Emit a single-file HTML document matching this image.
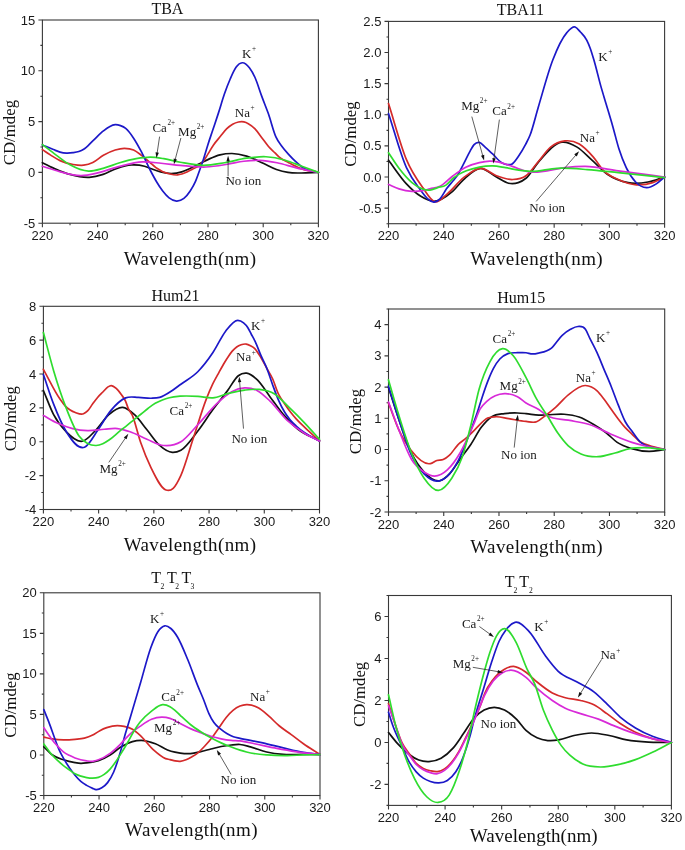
<!DOCTYPE html>
<html><head><meta charset="utf-8"><style>
html,body{margin:0;padding:0;background:#fff;}
svg{display:block;will-change:transform;}
.tk{font-family:"Liberation Sans", sans-serif;font-size:13px;fill:#1a1a1a;}
.ti{font-family:"Liberation Serif", serif;font-size:16px;fill:#111;}
.sb{font-size:7.6px;}
.yl{font-family:"Liberation Serif", serif;font-size:16.8px;fill:#111;}
.xl{font-family:"Liberation Serif", serif;font-size:19px;fill:#111;letter-spacing:0.4px;}
.lb{font-family:"Liberation Serif", serif;font-size:13px;fill:#1a1a1a;}
.sp{font-size:7.2px;}
</style></head><body>
<svg width="685" height="850" viewBox="0 0 685 850">
<rect width="685" height="850" fill="#fff"/>
<rect x="42.40" y="20.00" width="276.00" height="203.20" fill="none" stroke="#383838" stroke-width="1.1"/>
<text x="42.40" y="239.80" text-anchor="middle" class="tk">220</text>
<text x="97.60" y="239.80" text-anchor="middle" class="tk">240</text>
<text x="152.80" y="239.80" text-anchor="middle" class="tk">260</text>
<text x="208.00" y="239.80" text-anchor="middle" class="tk">280</text>
<text x="263.20" y="239.80" text-anchor="middle" class="tk">300</text>
<text x="318.40" y="239.80" text-anchor="middle" class="tk">320</text>
<text x="35.30" y="227.70" text-anchor="end" class="tk">-5</text>
<text x="35.30" y="176.90" text-anchor="end" class="tk">0</text>
<text x="35.30" y="126.10" text-anchor="end" class="tk">5</text>
<text x="35.30" y="75.30" text-anchor="end" class="tk">10</text>
<text x="35.30" y="24.50" text-anchor="end" class="tk">15</text>
<path d="M42.40,223.20v4.0 M70.00,223.20v2.0 M97.60,223.20v4.0 M125.20,223.20v2.0 M152.80,223.20v4.0 M180.40,223.20v2.0 M208.00,223.20v4.0 M235.60,223.20v2.0 M263.20,223.20v4.0 M290.80,223.20v2.0 M318.40,223.20v4.0 M42.40,223.20h-4.0 M42.40,197.80h-2.0 M42.40,172.40h-4.0 M42.40,147.00h-2.0 M42.40,121.60h-4.0 M42.40,96.20h-2.0 M42.40,70.80h-4.0 M42.40,45.40h-2.0 M42.40,20.00h-4.0" stroke="#383838" stroke-width="1.1" fill="none"/>
<path d="M42.40,162.65 C47.00,164.88 51.60,167.39 56.20,169.35 C60.80,171.32 65.40,173.16 70.00,174.43 C76.44,176.21 82.88,177.66 89.32,177.28 C93.92,177.01 98.52,175.92 103.12,174.43 C107.72,172.94 112.32,169.89 116.92,168.34 C121.80,166.69 126.67,165.25 131.55,164.98 C135.87,164.75 140.20,165.11 144.52,166.30 C146.35,166.81 148.18,167.59 150.01,168.23 C153.55,169.47 157.08,171.01 160.61,171.89 C164.14,172.77 167.68,173.52 171.21,173.52 C174.73,173.52 178.26,172.96 181.78,171.89 C184.52,171.06 187.26,169.71 190.00,168.44 C191.47,167.76 192.93,167.02 194.39,166.30 C196.44,165.30 198.50,164.27 200.55,163.26 C203.49,161.80 206.44,160.18 209.38,158.89 C212.92,157.33 216.46,155.82 220.01,154.92 C224.01,153.91 228.01,153.44 232.01,153.50 C236.89,153.58 241.76,154.69 246.64,156.14 C252.16,157.79 257.68,160.77 263.20,163.26 C267.62,165.25 272.03,167.89 276.45,169.45 C280.31,170.82 284.18,171.81 288.04,172.40 C292.00,173.01 295.95,172.94 299.91,173.01 C306.07,173.12 312.24,172.60 318.40,172.40" stroke="#111111" stroke-width="1.70" fill="none" stroke-linejoin="round" stroke-linecap="round"/>
<path d="M42.40,149.64 C45.16,151.47 47.92,153.40 50.68,155.13 C53.79,157.08 56.90,159.16 60.01,160.61 C64.37,162.65 68.73,163.74 73.09,164.48 C76.62,165.07 80.16,165.63 83.69,165.19 C86.73,164.81 89.76,163.97 92.80,162.54 C96.33,160.88 99.86,157.35 103.40,155.33 C107.33,153.09 111.27,151.21 115.21,150.05 C118.26,149.15 121.32,148.43 124.37,148.42 C127.44,148.42 130.52,148.69 133.59,150.05 C136.22,151.21 138.85,153.35 141.48,155.33 C144.33,157.48 147.17,160.11 150.01,162.54 C151.86,164.13 153.71,165.93 155.56,167.32 C160.34,170.91 165.13,172.88 169.91,174.03 C172.49,174.64 175.06,175.20 177.64,174.94 C179.02,174.80 180.40,174.44 181.78,174.03 C183.53,173.50 185.28,172.69 187.02,171.89 C188.82,171.07 190.61,170.04 192.41,169.15 C194.17,168.28 195.94,167.82 197.71,166.61 C199.48,165.39 201.26,164.05 203.03,161.83 C204.75,159.68 206.47,156.37 208.19,153.60 C209.97,150.75 211.74,147.56 213.52,144.97 C215.82,141.61 218.12,139.14 220.42,136.33 C222.55,133.73 224.67,130.78 226.80,128.71 C228.74,126.83 230.68,125.36 232.62,124.24 C234.58,123.12 236.54,122.38 238.50,122.01 C240.29,121.66 242.09,121.53 243.88,121.90 C245.35,122.21 246.82,122.83 248.30,123.63 C250.53,124.84 252.77,126.50 255.00,128.81 C257.27,131.16 259.53,134.69 261.79,137.65 C264.03,140.58 266.26,143.91 268.50,146.49 C270.76,149.10 273.03,150.92 275.29,153.20 C276.39,154.31 277.50,155.55 278.60,156.55 C282.00,159.65 285.41,160.76 288.81,162.65 C292.41,164.64 296.01,166.67 299.60,168.13 C305.87,170.68 312.13,170.98 318.40,172.40" stroke="#d42a2a" stroke-width="1.70" fill="none" stroke-linejoin="round" stroke-linecap="round"/>
<path d="M42.40,144.97 C46.08,146.49 49.76,148.08 53.44,149.54 C55.63,150.41 57.82,151.49 60.01,152.08 C62.14,152.66 64.28,152.99 66.41,153.10 C68.64,153.21 70.86,152.99 73.09,152.69 C75.00,152.44 76.92,152.22 78.83,151.57 C80.45,151.02 82.07,150.34 83.69,149.34 C86.73,147.45 89.76,143.73 92.80,140.90 C96.33,137.61 99.86,133.73 103.40,130.95 C105.42,129.35 107.44,127.74 109.47,126.68 C111.38,125.68 113.30,124.78 115.21,124.65 C116.98,124.52 118.74,125.02 120.51,125.66 C122.24,126.29 123.97,127.01 125.70,128.41 C128.33,130.54 130.96,134.23 133.59,138.16 C136.22,142.09 138.85,146.95 141.48,151.98 C144.33,157.41 147.17,164.24 150.01,169.76 C152.14,173.88 154.26,177.89 156.39,181.44 C158.49,184.96 160.60,188.27 162.71,190.99 C164.83,193.74 166.96,196.15 169.08,197.80 C171.56,199.72 174.03,200.95 176.51,201.05 C178.97,201.15 181.44,200.38 183.91,198.41 C186.00,196.73 188.10,194.18 190.20,190.99 C191.96,188.31 193.73,185.51 195.50,181.44 C196.93,178.13 198.37,173.78 199.80,169.76 C200.93,166.59 202.07,163.44 203.20,160.00 C204.76,155.25 206.33,149.56 207.89,144.66 C209.46,139.74 211.04,135.26 212.61,130.54 C214.57,124.66 216.53,118.93 218.49,112.86 C220.46,106.77 222.43,99.76 224.39,94.07 C226.36,88.38 228.33,83.23 230.30,78.72 C232.27,74.22 234.24,69.70 236.21,67.04 C238.18,64.38 240.14,62.96 242.11,62.77 C244.54,62.55 246.97,64.64 249.40,67.75 C251.27,70.14 253.14,73.37 255.00,77.51 C257.27,82.51 259.53,90.27 261.79,96.40 C264.03,102.46 266.26,107.71 268.50,114.08 C270.96,121.11 273.43,131.38 275.90,136.94 C277.93,141.53 279.96,143.67 282.00,146.49 C284.27,149.65 286.54,152.11 288.81,154.62 C291.04,157.08 293.27,159.35 295.49,161.43 C298.20,163.95 300.90,166.41 303.61,168.13 C308.54,171.27 313.47,170.98 318.40,172.40" stroke="#1c18c8" stroke-width="1.70" fill="none" stroke-linejoin="round" stroke-linecap="round"/>
<path d="M42.40,166.30 C47.92,168.00 53.44,169.97 58.96,171.38 C66.32,173.27 73.68,175.63 81.04,175.55 C86.56,175.49 92.08,174.12 97.60,172.91 C104.96,171.29 112.32,168.12 119.68,166.30 C127.22,164.44 134.77,162.31 142.31,161.94 C148.57,161.63 154.82,162.69 161.08,163.26 C167.52,163.84 173.96,164.81 180.40,165.39 C188.86,166.15 197.33,167.35 205.79,167.02 C212.97,166.73 220.14,165.42 227.32,164.27 C232.84,163.39 238.36,161.88 243.88,161.22 C249.22,160.59 254.55,160.10 259.89,160.31 C265.59,160.53 271.30,161.61 277.00,162.75 C283.44,164.03 289.88,166.30 296.32,167.83 C303.68,169.57 311.04,170.88 318.40,172.40" stroke="#d82ad8" stroke-width="1.70" fill="none" stroke-linejoin="round" stroke-linecap="round"/>
<path d="M42.40,144.56 C47.00,148.08 51.60,151.76 56.20,155.13 C60.80,158.50 65.40,162.27 70.00,164.78 C76.16,168.15 82.33,170.80 88.49,171.08 C93.37,171.30 98.24,169.59 103.12,168.34 C108.64,166.91 114.16,164.36 119.68,162.75 C125.20,161.14 130.72,159.63 136.24,158.68 C140.93,157.88 145.62,157.14 150.32,157.16 C154.82,157.18 159.33,157.97 163.84,158.68 C169.36,159.56 174.88,161.24 180.40,162.24 C188.13,163.65 195.86,165.40 203.58,165.39 C210.58,165.38 217.57,163.90 224.56,162.75 C231.92,161.53 239.28,159.18 246.64,158.18 C253.08,157.30 259.52,156.41 265.96,156.75 C272.40,157.09 278.84,158.40 285.28,160.21 C290.80,161.76 296.32,164.27 301.84,166.30 C307.36,168.34 312.88,170.37 318.40,172.40" stroke="#2fdc2f" stroke-width="1.70" fill="none" stroke-linejoin="round" stroke-linecap="round"/>
<text x="151.40" y="13.90" class="ti">TBA</text>
<text transform="translate(14.90,132.60) rotate(-90)" text-anchor="middle" class="yl">CD/mdeg</text>
<text x="123.70" y="264.60" class="xl">Wavelength(nm)</text>
<text x="241.90" y="57.80" class="lb">K<tspan dx="0.6" dy="-6.8" class="sp">+</tspan></text>
<text x="234.80" y="117.00" class="lb">Na<tspan dx="0.6" dy="-6.8" class="sp">+</tspan></text>
<text x="152.40" y="131.60" class="lb">Ca<tspan dx="0.6" dy="-6.8" class="sp">2+</tspan></text>
<text x="178.10" y="135.70" class="lb">Mg<tspan dx="0.6" dy="-6.8" class="sp">2+</tspan></text>
<text x="225.40" y="184.80" class="lb">No ion</text>
<path d="M159.60,136.60L157.07,153.45" stroke="#2a2a2a" stroke-width="0.75" fill="none"/>
<path d="M156.40,157.90L155.54,152.21L158.90,152.71Z" fill="#111"/>
<path d="M180.90,138.00L175.06,159.95" stroke="#2a2a2a" stroke-width="0.75" fill="none"/>
<path d="M173.90,164.30L173.67,158.55L176.96,159.42Z" fill="#111"/>
<path d="M228.10,176.30L228.10,160.30" stroke="#2a2a2a" stroke-width="0.75" fill="none"/>
<path d="M228.10,155.80L229.80,161.30L226.40,161.30Z" fill="#111"/>
<rect x="388.50" y="21.40" width="276.10" height="202.30" fill="none" stroke="#383838" stroke-width="1.1"/>
<text x="388.50" y="240.30" text-anchor="middle" class="tk">220</text>
<text x="443.72" y="240.30" text-anchor="middle" class="tk">240</text>
<text x="498.94" y="240.30" text-anchor="middle" class="tk">260</text>
<text x="554.16" y="240.30" text-anchor="middle" class="tk">280</text>
<text x="609.38" y="240.30" text-anchor="middle" class="tk">300</text>
<text x="664.60" y="240.30" text-anchor="middle" class="tk">320</text>
<text x="381.40" y="212.64" text-anchor="end" class="tk">-0.5</text>
<text x="381.40" y="181.52" text-anchor="end" class="tk">0.0</text>
<text x="381.40" y="150.39" text-anchor="end" class="tk">0.5</text>
<text x="381.40" y="119.27" text-anchor="end" class="tk">1.0</text>
<text x="381.40" y="88.15" text-anchor="end" class="tk">1.5</text>
<text x="381.40" y="57.02" text-anchor="end" class="tk">2.0</text>
<text x="381.40" y="25.90" text-anchor="end" class="tk">2.5</text>
<path d="M388.50,223.70v4.0 M416.11,223.70v2.0 M443.72,223.70v4.0 M471.33,223.70v2.0 M498.94,223.70v4.0 M526.55,223.70v2.0 M554.16,223.70v4.0 M581.77,223.70v2.0 M609.38,223.70v4.0 M636.99,223.70v2.0 M664.60,223.70v4.0 M388.50,223.70h-2.0 M388.50,208.14h-4.0 M388.50,192.58h-2.0 M388.50,177.02h-4.0 M388.50,161.45h-2.0 M388.50,145.89h-4.0 M388.50,130.33h-2.0 M388.50,114.77h-4.0 M388.50,99.21h-2.0 M388.50,83.65h-4.0 M388.50,68.08h-2.0 M388.50,52.52h-4.0 M388.50,36.96h-2.0 M388.50,21.40h-4.0" stroke="#383838" stroke-width="1.1" fill="none"/>
<path d="M388.50,160.21 C394.48,168.09 400.46,177.48 406.45,183.86 C411.23,188.97 416.02,193.38 420.80,196.31 C425.22,199.01 429.64,201.31 434.06,201.29 C440.04,201.26 446.02,197.08 452.00,191.95 C455.87,188.64 459.73,183.02 463.60,179.51 C469.12,174.48 474.64,168.66 480.17,168.30 C485.60,167.94 491.03,174.18 496.46,177.02 C500.50,179.13 504.55,182.47 508.60,183.24 C511.82,183.86 515.05,183.72 518.27,182.62 C520.84,181.74 523.42,180.44 526.00,178.26 C530.14,174.75 534.28,166.82 538.42,162.08 C546.25,153.12 554.07,143.21 561.89,142.16 C566.95,141.48 572.01,144.07 577.08,147.14 C581.86,150.03 586.65,155.32 591.43,159.59 C596.86,164.42 602.29,170.80 607.72,174.53 C614.53,179.20 621.34,181.40 628.15,182.62 C634.78,183.81 641.41,183.18 648.03,182.00 C653.56,181.01 659.08,178.68 664.60,177.02" stroke="#111111" stroke-width="1.70" fill="none" stroke-linejoin="round" stroke-linecap="round"/>
<path d="M388.50,103.56 C394.48,122.24 400.46,145.31 406.45,159.59 C411.88,172.55 417.31,179.94 422.74,187.60 C426.79,193.31 430.84,200.80 434.88,201.91 C439.03,203.05 443.17,197.13 447.31,193.82 C452.74,189.48 458.17,181.83 463.60,177.64 C469.40,173.16 475.20,168.28 480.99,168.30 C486.15,168.32 491.30,173.92 496.46,175.77 C501.89,177.72 507.32,179.79 512.75,179.51 C517.16,179.27 521.58,179.00 526.00,175.77 C530.14,172.74 534.28,166.28 538.42,161.45 C542.47,156.73 546.52,150.53 550.57,147.14 C555.36,143.13 560.14,141.43 564.93,140.91 C569.71,140.39 574.50,141.27 579.29,144.02 C583.98,146.73 588.67,151.73 593.37,157.10 C596.86,161.10 600.36,167.26 603.86,170.79 C608.64,175.63 613.43,177.27 618.22,179.51 C624.29,182.34 630.36,184.39 636.44,184.80 C641.87,185.16 647.30,184.41 652.73,182.62 C656.69,181.31 660.64,178.88 664.60,177.02" stroke="#d42a2a" stroke-width="1.70" fill="none" stroke-linejoin="round" stroke-linecap="round"/>
<path d="M388.50,113.52 C394.48,131.58 400.46,154.54 406.45,167.68 C410.50,176.57 414.55,182.27 418.59,187.60 C424.02,194.74 429.45,203.29 434.88,201.91 C436.59,201.48 438.29,200.53 439.99,198.80 C442.16,196.60 444.32,191.83 446.48,188.84 C448.69,185.79 450.90,183.48 453.11,180.75 C454.44,179.10 455.78,177.73 457.11,175.77 C459.27,172.60 461.44,168.05 463.60,163.94 C465.81,159.75 468.02,154.72 470.23,150.87 C471.51,148.63 472.80,146.08 474.09,144.65 C475.84,142.70 477.59,142.06 479.34,142.34 C481.27,142.66 483.20,145.46 485.13,147.14 C487.62,149.29 490.10,151.66 492.59,153.98 C495.63,156.83 498.66,160.95 501.70,162.70 C503.45,163.70 505.20,164.36 506.95,164.57 C508.70,164.77 510.44,165.00 512.19,163.94 C514.40,162.61 516.61,159.07 518.82,155.85 C521.03,152.64 523.24,148.85 525.45,144.65 C526.96,141.76 528.48,139.14 530.00,135.31 C532.81,128.23 535.62,116.07 538.42,106.68 C543.21,90.67 547.99,72.40 552.78,59.99 C557.47,47.83 562.17,37.98 566.86,32.60 C569.62,29.44 572.38,26.12 575.14,27.00 C576.89,27.56 578.64,30.06 580.39,31.98 C582.50,34.30 584.60,35.95 586.71,40.07 C587.87,42.34 589.03,44.99 590.19,48.17 C591.43,51.56 592.68,55.79 593.92,59.99 C596.25,67.87 598.58,78.13 600.90,86.38 C602.67,92.65 604.44,98.29 606.20,104.25 C608.30,111.32 610.40,118.13 612.50,125.48 C614.64,132.95 616.77,142.04 618.91,148.76 C621.34,156.43 623.78,162.50 626.22,167.68 C629.35,174.32 632.48,178.69 635.61,182.00 C639.29,185.89 642.97,187.48 646.65,187.60 C649.87,187.70 653.10,185.87 656.32,183.86 C659.08,182.14 661.84,179.30 664.60,177.02" stroke="#1c18c8" stroke-width="1.70" fill="none" stroke-linejoin="round" stroke-linecap="round"/>
<path d="M388.50,184.48 C392.00,185.94 395.49,187.74 398.99,188.84 C403.32,190.21 407.64,191.11 411.97,191.33 C415.37,191.50 418.78,191.27 422.18,190.71 C424.76,190.29 427.34,189.47 429.92,188.84 C433.27,188.02 436.63,188.00 439.99,186.35 C444.36,184.21 448.74,178.97 453.11,175.77 C457.52,172.53 461.94,169.24 466.36,167.06 C470.69,164.91 475.01,163.70 479.34,162.70 C482.83,161.89 486.33,161.19 489.83,161.14 C492.87,161.10 495.90,161.49 498.94,162.08 C503.36,162.94 507.78,165.01 512.19,166.43 C518.13,168.35 524.07,171.35 530.00,172.04 C535.66,172.69 541.32,171.47 546.98,170.79 C553.06,170.06 559.13,168.40 565.20,167.68 C571.92,166.88 578.64,166.35 585.36,166.43 C596.31,166.57 607.26,169.33 618.22,170.79 C633.68,172.85 649.14,174.94 664.60,177.02" stroke="#d82ad8" stroke-width="1.70" fill="none" stroke-linejoin="round" stroke-linecap="round"/>
<path d="M388.50,152.74 C392.00,157.93 395.49,163.71 398.99,168.30 C403.32,173.98 407.64,179.04 411.97,182.62 C415.37,185.43 418.78,187.64 422.18,188.84 C424.76,189.75 427.34,190.29 429.92,190.09 C432.49,189.88 435.07,188.40 437.65,187.60 C440.41,186.74 443.17,186.90 445.93,185.11 C448.32,183.55 450.71,180.21 453.11,178.26 C457.52,174.65 461.94,172.66 466.36,170.79 C470.69,168.96 475.01,167.89 479.34,167.06 C483.75,166.21 488.17,165.70 492.59,165.81 C496.92,165.92 501.24,166.96 505.57,167.68 C509.98,168.41 514.40,169.52 518.82,170.17 C522.55,170.71 526.27,171.25 530.00,171.41 C538.97,171.81 547.95,168.68 556.92,168.30 C567.04,167.88 577.17,168.83 587.29,169.55 C597.60,170.27 607.91,171.59 618.22,172.66 C633.68,174.26 649.14,175.98 664.60,177.64" stroke="#2fdc2f" stroke-width="1.70" fill="none" stroke-linejoin="round" stroke-linecap="round"/>
<text x="496.70" y="15.30" class="ti">TBA11</text>
<text transform="translate(356.00,134.00) rotate(-90)" text-anchor="middle" class="yl">CD/mdeg</text>
<text x="470.30" y="264.60" class="xl">Wavelength(nm)</text>
<text x="598.20" y="61.00" class="lb">K<tspan dx="0.6" dy="-6.8" class="sp">+</tspan></text>
<text x="461.20" y="109.80" class="lb">Mg<tspan dx="0.6" dy="-6.8" class="sp">2+</tspan></text>
<text x="492.30" y="115.30" class="lb">Ca<tspan dx="0.6" dy="-6.8" class="sp">2+</tspan></text>
<text x="579.80" y="142.10" class="lb">Na<tspan dx="0.6" dy="-6.8" class="sp">+</tspan></text>
<text x="529.30" y="212.00" class="lb">No ion</text>
<path d="M471.80,116.60L482.89,156.17" stroke="#2a2a2a" stroke-width="0.75" fill="none"/>
<path d="M484.10,160.50L480.98,155.66L484.25,154.75Z" fill="#111"/>
<path d="M499.40,119.60L493.92,159.14" stroke="#2a2a2a" stroke-width="0.75" fill="none"/>
<path d="M493.30,163.60L492.37,157.92L495.74,158.39Z" fill="#111"/>
<path d="M536.20,201.40L576.17,154.72" stroke="#2a2a2a" stroke-width="0.75" fill="none"/>
<path d="M579.10,151.30L576.81,156.58L574.23,154.37Z" fill="#111"/>
<rect x="43.40" y="306.30" width="276.10" height="203.20" fill="none" stroke="#383838" stroke-width="1.1"/>
<text x="43.40" y="526.10" text-anchor="middle" class="tk">220</text>
<text x="98.62" y="526.10" text-anchor="middle" class="tk">240</text>
<text x="153.84" y="526.10" text-anchor="middle" class="tk">260</text>
<text x="209.06" y="526.10" text-anchor="middle" class="tk">280</text>
<text x="264.28" y="526.10" text-anchor="middle" class="tk">300</text>
<text x="319.50" y="526.10" text-anchor="middle" class="tk">320</text>
<text x="36.30" y="514.00" text-anchor="end" class="tk">-4</text>
<text x="36.30" y="480.13" text-anchor="end" class="tk">-2</text>
<text x="36.30" y="446.27" text-anchor="end" class="tk">0</text>
<text x="36.30" y="412.40" text-anchor="end" class="tk">2</text>
<text x="36.30" y="378.53" text-anchor="end" class="tk">4</text>
<text x="36.30" y="344.67" text-anchor="end" class="tk">6</text>
<text x="36.30" y="310.80" text-anchor="end" class="tk">8</text>
<path d="M43.40,509.50v4.0 M71.01,509.50v2.0 M98.62,509.50v4.0 M126.23,509.50v2.0 M153.84,509.50v4.0 M181.45,509.50v2.0 M209.06,509.50v4.0 M236.67,509.50v2.0 M264.28,509.50v4.0 M291.89,509.50v2.0 M319.50,509.50v4.0 M43.40,509.50h-4.0 M43.40,492.57h-2.0 M43.40,475.63h-4.0 M43.40,458.70h-2.0 M43.40,441.77h-4.0 M43.40,424.83h-2.0 M43.40,407.90h-4.0 M43.40,390.97h-2.0 M43.40,374.03h-4.0 M43.40,357.10h-2.0 M43.40,340.17h-4.0 M43.40,323.23h-2.0 M43.40,306.30h-4.0" stroke="#383838" stroke-width="1.1" fill="none"/>
<path d="M43.40,390.46 C46.81,398.53 50.21,408.16 53.62,414.67 C57.85,422.78 62.08,427.49 66.32,431.78 C71.65,437.18 76.99,442.19 82.33,441.26 C86.93,440.46 91.53,434.43 96.14,429.74 C100.37,425.44 104.60,418.36 108.84,414.67 C113.44,410.67 118.04,407.00 122.64,407.39 C126.60,407.73 130.56,411.09 134.51,414.67 C138.65,418.43 142.80,424.67 146.94,429.74 C151.17,434.94 155.40,441.71 159.64,445.49 C163.87,449.27 168.11,452.15 172.34,452.43 C175.19,452.62 178.04,451.80 180.90,450.23 C186.60,447.09 192.31,438.11 198.02,430.76 C202.99,424.36 207.96,416.34 212.93,409.59 C217.80,402.97 222.68,397.20 227.56,390.63 C231.15,385.79 234.74,378.51 238.33,375.73 C241.09,373.59 243.85,372.91 246.61,373.19 C250.20,373.55 253.79,376.54 257.38,379.96 C261.61,383.99 265.84,391.25 270.08,396.89 C274.31,402.54 278.55,408.80 282.78,413.83 C287.66,419.62 292.53,424.67 297.41,428.73 C304.77,434.86 312.14,436.86 319.50,440.92" stroke="#111111" stroke-width="1.70" fill="none" stroke-linejoin="round" stroke-linecap="round"/>
<path d="M43.40,369.29 C48.92,379.23 54.44,391.18 59.97,399.09 C61.68,401.55 63.39,404.06 65.10,405.87 C66.79,407.66 68.49,408.83 70.18,409.93 C71.88,411.04 73.59,411.84 75.29,412.47 C78.02,413.48 80.76,414.96 83.49,413.83 C84.85,413.26 86.21,412.32 87.58,410.95 C89.29,409.23 91.00,406.13 92.71,403.84 C94.40,401.56 96.10,399.20 97.79,397.23 C99.49,395.25 101.20,393.70 102.90,391.98 C104.60,390.26 106.30,388.01 108.01,386.90 C109.04,386.23 110.07,385.61 111.10,385.55 C112.80,385.45 114.50,386.92 116.21,388.43 C117.89,389.92 119.58,392.21 121.26,394.52 C122.64,396.42 124.02,397.77 125.40,400.79 C126.41,403.00 127.43,406.70 128.44,408.92 C129.64,411.53 130.83,412.18 132.03,414.67 C134.88,420.62 137.73,434.08 140.59,442.27 C144.08,452.31 147.58,460.69 151.08,467.84 C156.05,478.01 161.02,488.41 165.99,490.03 C168.38,490.80 170.77,490.57 173.17,488.33 C175.74,485.93 178.32,480.92 180.90,475.29 C185.13,466.05 189.36,449.89 193.60,437.19 C197.83,424.49 202.07,409.95 206.30,399.09 C208.42,393.67 210.53,388.65 212.65,384.19 C214.77,379.73 216.88,376.19 219.00,372.34 C220.75,369.16 222.50,365.95 224.25,363.03 C225.67,360.65 227.10,358.34 228.53,356.25 C229.77,354.43 231.01,352.64 232.25,351.17 C233.72,349.44 235.20,348.01 236.67,346.94 C238.14,345.87 239.62,345.22 241.09,344.74 C242.79,344.18 244.49,343.80 246.20,344.06 C247.62,344.28 249.05,345.00 250.48,345.75 C251.98,346.56 253.49,347.25 255.00,348.80 C256.97,350.83 258.94,354.35 260.91,357.61 C262.87,360.85 264.83,364.72 266.79,368.28 C268.73,371.78 270.66,374.51 272.59,378.77 C274.56,383.12 276.53,390.06 278.50,394.18 C280.47,398.30 282.44,400.56 284.41,403.50 C286.37,406.42 288.33,409.23 290.29,411.79 C292.26,414.37 294.23,416.70 296.20,418.91 C299.13,422.20 302.07,424.88 305.00,427.71 C309.84,432.38 314.67,436.52 319.50,440.92" stroke="#d42a2a" stroke-width="1.70" fill="none" stroke-linejoin="round" stroke-linecap="round"/>
<path d="M43.40,374.54 C46.81,384.42 50.21,395.40 53.62,404.17 C57.85,415.08 62.08,424.88 66.32,431.78 C72.39,441.66 78.46,449.49 84.54,447.19 C89.05,445.47 93.56,436.06 98.07,429.74 C102.30,423.81 106.53,415.71 110.77,410.61 C115.74,404.62 120.71,399.96 125.68,397.91 C129.91,396.16 134.14,397.34 138.38,397.40 C142.61,397.46 146.85,398.38 151.08,398.25 C153.93,398.16 156.79,398.20 159.64,397.40 C163.87,396.22 168.11,393.24 172.34,390.46 C175.19,388.58 178.04,386.29 180.90,384.19 C186.60,380.00 192.31,377.34 198.02,371.49 C202.99,366.40 207.96,359.94 212.93,352.53 C217.16,346.21 221.39,336.60 225.63,331.19 C229.68,326.02 233.72,320.32 237.77,320.35 C239.71,320.37 241.64,321.30 243.57,322.89 C244.95,324.04 246.33,325.36 247.71,327.47 C248.91,329.29 250.11,331.99 251.30,334.24 C252.54,336.56 253.77,338.62 255.00,341.18 C256.97,345.28 258.94,350.88 260.91,355.41 C262.87,359.91 264.83,363.35 266.79,368.28 C268.73,373.13 270.66,379.44 272.59,384.70 C274.56,390.06 276.53,395.60 278.50,400.11 C280.47,404.63 282.44,408.46 284.41,411.79 C286.37,415.11 288.33,417.73 290.29,420.09 C292.26,422.47 294.23,424.21 296.20,426.02 C299.13,428.71 302.07,430.91 305.00,432.96 C309.84,436.33 314.67,438.27 319.50,440.92" stroke="#1c18c8" stroke-width="1.70" fill="none" stroke-linejoin="round" stroke-linecap="round"/>
<path d="M43.40,415.52 C48.19,418.12 52.97,421.16 57.76,423.31 C62.73,425.54 67.70,427.35 72.67,428.56 C77.64,429.77 82.61,430.42 87.58,430.59 C93.19,430.78 98.80,429.60 104.42,429.24 C108.74,428.96 113.07,428.12 117.39,428.56 C121.63,428.99 125.86,430.36 130.10,431.78 C135.71,433.65 141.32,436.94 146.94,439.23 C152.55,441.51 158.17,445.05 163.78,445.49 C169.49,445.95 175.19,445.27 180.90,441.77 C186.60,438.27 192.31,430.53 198.02,424.49 C204.37,417.78 210.72,409.26 217.07,403.33 C221.94,398.77 226.82,394.22 231.70,391.64 C236.03,389.36 240.35,388.07 244.68,387.92 C248.91,387.77 253.14,388.43 257.38,390.63 C261.61,392.83 265.84,397.08 270.08,401.13 C275.69,406.49 281.31,414.81 286.92,420.09 C292.63,425.46 298.33,429.38 304.04,432.96 C309.19,436.19 314.35,438.27 319.50,440.92" stroke="#d82ad8" stroke-width="1.70" fill="none" stroke-linejoin="round" stroke-linecap="round"/>
<path d="M43.40,332.55 C46.81,345.25 50.21,359.09 53.62,370.65 C57.85,385.01 62.08,397.51 66.32,408.41 C70.55,419.30 74.78,430.10 79.02,436.01 C81.87,439.99 84.72,441.88 87.58,443.46 C90.43,445.04 93.28,445.61 96.14,445.49 C98.34,445.40 100.55,444.75 102.76,443.80 C104.84,442.90 106.92,441.49 109.00,440.07 C112.66,437.57 116.33,433.88 119.99,430.93 C122.35,429.03 124.70,427.24 127.06,425.34 C129.41,423.45 131.75,421.47 134.10,419.58 C136.45,417.69 138.79,415.88 141.14,414.00 C143.50,412.10 145.85,410.02 148.21,408.24 C150.55,406.47 152.88,404.70 155.22,403.33 C157.61,401.92 160.01,400.88 162.40,399.94 C164.70,399.04 167.00,398.31 169.30,397.74 C172.89,396.84 176.48,396.52 180.07,396.22 C186.05,395.71 192.03,396.03 198.02,396.39 C202.99,396.68 207.96,398.38 212.93,397.91 C217.80,397.44 222.68,394.90 227.56,393.68 C233.26,392.24 238.97,390.81 244.68,390.12 C249.55,389.53 254.43,388.87 259.31,389.44 C264.28,390.03 269.25,390.68 274.22,393.68 C279.19,396.67 284.16,402.62 289.13,407.39 C294.10,412.16 299.07,417.09 304.04,422.29 C309.19,427.69 314.35,433.58 319.50,439.23" stroke="#2fdc2f" stroke-width="1.70" fill="none" stroke-linejoin="round" stroke-linecap="round"/>
<text x="151.40" y="300.80" class="ti">Hum21</text>
<text transform="translate(16.40,418.70) rotate(-90)" text-anchor="middle" class="yl">CD/mdeg</text>
<text x="123.70" y="550.60" class="xl">Wavelength(nm)</text>
<text x="251.10" y="330.10" class="lb">K<tspan dx="0.6" dy="-6.8" class="sp">+</tspan></text>
<text x="236.10" y="361.30" class="lb">Na<tspan dx="0.6" dy="-6.8" class="sp">+</tspan></text>
<text x="169.60" y="415.00" class="lb">Ca<tspan dx="0.6" dy="-6.8" class="sp">2+</tspan></text>
<text x="99.50" y="473.20" class="lb">Mg<tspan dx="0.6" dy="-6.8" class="sp">2+</tspan></text>
<text x="231.40" y="443.40" class="lb">No ion</text>
<path d="M108.80,462.40L125.76,437.52" stroke="#2a2a2a" stroke-width="0.75" fill="none"/>
<path d="M128.30,433.80L126.61,439.30L123.80,437.39Z" fill="#111"/>
<path d="M243.50,428.60L239.57,381.18" stroke="#2a2a2a" stroke-width="0.75" fill="none"/>
<path d="M239.20,376.70L241.35,382.04L237.96,382.32Z" fill="#111"/>
<rect x="388.50" y="309.00" width="276.20" height="203.00" fill="none" stroke="#383838" stroke-width="1.1"/>
<text x="388.50" y="528.60" text-anchor="middle" class="tk">220</text>
<text x="443.74" y="528.60" text-anchor="middle" class="tk">240</text>
<text x="498.98" y="528.60" text-anchor="middle" class="tk">260</text>
<text x="554.22" y="528.60" text-anchor="middle" class="tk">280</text>
<text x="609.46" y="528.60" text-anchor="middle" class="tk">300</text>
<text x="664.70" y="528.60" text-anchor="middle" class="tk">320</text>
<text x="381.40" y="516.50" text-anchor="end" class="tk">-2</text>
<text x="381.40" y="485.27" text-anchor="end" class="tk">-1</text>
<text x="381.40" y="454.04" text-anchor="end" class="tk">0</text>
<text x="381.40" y="422.81" text-anchor="end" class="tk">1</text>
<text x="381.40" y="391.58" text-anchor="end" class="tk">2</text>
<text x="381.40" y="360.35" text-anchor="end" class="tk">3</text>
<text x="381.40" y="329.12" text-anchor="end" class="tk">4</text>
<path d="M388.50,512.00v4.0 M416.12,512.00v2.0 M443.74,512.00v4.0 M471.36,512.00v2.0 M498.98,512.00v4.0 M526.60,512.00v2.0 M554.22,512.00v4.0 M581.84,512.00v2.0 M609.46,512.00v4.0 M637.08,512.00v2.0 M664.70,512.00v4.0 M388.50,512.00h-4.0 M388.50,496.38h-2.0 M388.50,480.77h-4.0 M388.50,465.15h-2.0 M388.50,449.54h-4.0 M388.50,433.92h-2.0 M388.50,418.31h-4.0 M388.50,402.69h-2.0 M388.50,387.08h-4.0 M388.50,371.46h-2.0 M388.50,355.85h-4.0 M388.50,340.23h-2.0 M388.50,324.62h-4.0 M388.50,309.00h-2.0" stroke="#383838" stroke-width="1.1" fill="none"/>
<path d="M388.50,387.39 C391.91,397.90 395.31,409.04 398.72,418.93 C402.95,431.24 407.19,444.13 411.42,452.97 C415.66,461.82 419.89,467.46 424.13,472.02 C429.38,477.68 434.63,481.97 439.87,480.77 C443.10,480.03 446.32,477.25 449.54,473.90 C453.04,470.26 456.54,464.05 460.04,459.22 C463.63,454.26 467.22,449.93 470.81,444.54 C474.31,439.29 477.80,432.00 481.30,427.36 C484.80,422.73 488.30,419.07 491.80,416.75 C496.03,413.93 500.27,414.25 504.50,413.62 C508.83,412.98 513.16,412.89 517.49,413.00 C520.34,413.07 523.19,413.36 526.05,413.62 C530.28,414.02 534.52,415.08 538.75,415.18 C541.51,415.26 544.28,414.98 547.04,414.87 C552.75,414.66 558.46,413.77 564.16,414.25 C569.13,414.66 574.11,415.31 579.08,417.06 C583.96,418.77 588.84,421.66 593.72,424.55 C597.95,427.07 602.19,429.70 606.42,432.99 C610.01,435.77 613.60,439.91 617.19,442.36 C622.07,445.68 626.95,447.11 631.83,448.60 C637.54,450.35 643.25,451.32 648.96,451.41 C654.20,451.50 659.45,450.16 664.70,449.54" stroke="#111111" stroke-width="1.70" fill="none" stroke-linejoin="round" stroke-linecap="round"/>
<path d="M388.50,403.00 C391.91,411.85 395.31,422.11 398.72,429.55 C402.95,438.80 407.19,445.40 411.42,450.79 C417.78,458.87 424.13,464.87 430.48,463.59 C432.60,463.17 434.72,461.15 436.84,460.47 C438.95,459.79 441.07,460.42 443.19,459.53 C445.31,458.65 447.42,457.12 449.54,455.16 C452.39,452.52 455.25,447.43 458.10,444.54 C460.86,441.75 463.63,440.43 466.39,437.98 C469.24,435.45 472.10,432.27 474.95,429.55 C479.19,425.51 483.42,419.90 487.66,418.00 C490.42,416.75 493.18,416.84 495.94,416.75 C500.18,416.61 504.41,417.97 508.65,418.62 C514.45,419.51 520.25,420.97 526.05,421.43 C529.55,421.71 533.04,423.03 536.54,421.74 C539.40,420.69 542.25,417.93 545.11,415.81 C548.60,413.21 552.10,410.47 555.60,407.38 C559.84,403.63 564.07,398.26 568.31,394.88 C574.01,390.33 579.72,385.23 585.43,385.52 C589.32,385.71 593.20,387.24 597.09,390.82 C599.42,392.98 601.76,396.21 604.10,399.26 C606.47,402.34 608.83,405.95 611.20,409.25 C613.54,412.51 615.88,415.87 618.22,418.93 C620.57,422.02 622.93,425.08 625.29,427.68 C627.66,430.29 630.04,432.28 632.41,434.55 C634.94,436.97 637.48,440.04 640.01,441.73 C642.16,443.17 644.32,443.70 646.47,444.54 C652.55,446.93 658.62,447.87 664.70,449.54" stroke="#d42a2a" stroke-width="1.70" fill="none" stroke-linejoin="round" stroke-linecap="round"/>
<path d="M388.50,386.14 C391.91,397.07 395.31,408.54 398.72,418.93 C402.95,431.85 407.19,446.00 411.42,455.16 C415.66,464.32 419.89,469.58 424.13,473.90 C428.36,478.22 432.60,481.10 436.84,481.08 C440.33,481.06 443.83,479.36 447.33,476.08 C450.83,472.81 454.33,467.88 457.83,461.41 C461.97,453.74 466.11,442.55 470.26,431.74 C472.65,425.49 475.04,419.19 477.44,412.06 C479.09,407.13 480.75,401.40 482.41,396.45 C484.25,390.94 486.09,385.52 487.93,380.83 C489.77,376.15 491.61,371.83 493.46,368.34 C495.57,364.32 497.69,361.33 499.81,358.97 C502.48,355.99 505.15,354.75 507.82,353.66 C511.04,352.35 514.26,352.87 517.49,352.72 C520.34,352.59 523.19,352.40 526.05,352.72 C528.17,352.96 530.28,353.92 532.40,353.97 C534.52,354.02 536.64,353.52 538.75,353.04 C542.99,352.06 547.22,351.55 551.46,348.04 C554.96,345.14 558.46,338.82 561.95,335.55 C564.81,332.87 567.66,330.84 570.52,329.30 C573.00,327.96 575.49,326.49 577.97,326.49 C580.46,326.49 582.94,325.77 585.43,329.30 C586.95,331.46 588.47,335.58 589.99,338.67 C592.34,343.44 594.68,347.58 597.03,352.72 C599.39,357.88 601.74,363.98 604.10,369.59 C606.47,375.22 608.83,380.53 611.20,386.45 C613.54,392.30 615.88,399.02 618.22,404.88 C620.57,410.79 622.93,417.28 625.29,421.74 C627.66,426.25 630.04,428.51 632.41,431.74 C634.94,435.18 637.48,439.20 640.01,441.73 C644.37,446.09 648.74,446.36 653.10,447.66 C656.97,448.82 660.83,448.91 664.70,449.54" stroke="#1c18c8" stroke-width="1.70" fill="none" stroke-linejoin="round" stroke-linecap="round"/>
<path d="M388.50,402.07 C391.91,411.23 395.31,420.93 398.72,429.55 C402.95,440.27 407.19,452.14 411.42,459.22 C415.66,466.30 419.89,469.20 424.13,472.02 C427.63,474.36 431.13,476.12 434.63,476.08 C438.86,476.04 443.10,473.69 447.33,469.84 C451.57,465.99 455.80,460.16 460.04,452.97 C464.73,445.01 469.43,434.04 474.12,423.30 C476.15,418.67 478.17,412.56 480.20,408.94 C482.50,404.83 484.80,403.28 487.10,401.13 C492.90,395.73 498.70,393.90 504.50,393.64 C508.83,393.44 513.16,394.44 517.49,396.76 C520.34,398.29 523.19,401.17 526.05,403.00 C530.28,405.73 534.52,406.84 538.75,409.56 C541.61,411.40 544.46,414.16 547.32,415.81 C554.31,419.86 561.31,418.72 568.31,420.18 C575.30,421.64 582.30,422.29 589.30,424.55 C596.39,426.85 603.48,430.96 610.56,433.92 C617.65,436.89 624.74,440.09 631.83,442.36 C637.45,444.15 643.06,445.51 648.68,446.73 C654.02,447.88 659.36,448.60 664.70,449.54" stroke="#d82ad8" stroke-width="1.70" fill="none" stroke-linejoin="round" stroke-linecap="round"/>
<path d="M388.50,379.89 C391.91,391.55 395.31,403.86 398.72,414.87 C402.95,428.57 407.19,442.41 411.42,452.97 C415.66,463.54 419.89,472.11 424.13,478.27 C428.92,485.23 433.70,490.79 438.49,490.45 C442.91,490.14 447.33,485.06 451.75,478.27 C455.25,472.90 458.75,467.31 462.25,457.03 C465.10,448.65 467.95,437.00 470.81,425.49 C473.57,414.35 476.33,399.15 479.09,389.26 C482.68,376.41 486.27,368.44 489.87,361.78 C494.10,353.93 498.34,349.12 502.57,348.66 C506.07,348.28 509.57,351.60 513.07,355.53 C517.39,360.40 521.72,369.56 526.05,377.71 C529.55,384.29 533.04,392.66 536.54,398.94 C540.13,405.40 543.72,410.06 547.32,415.81 C550.81,421.41 554.31,427.99 557.81,432.99 C561.31,437.98 564.81,442.44 568.31,445.79 C572.54,449.84 576.78,452.06 581.01,453.91 C586.72,456.40 592.43,456.90 598.14,456.72 C603.75,456.55 609.37,454.43 614.98,452.97 C619.96,451.68 624.93,449.48 629.90,448.60 C634.78,447.74 639.66,447.65 644.54,447.66 C651.26,447.68 657.98,448.91 664.70,449.54" stroke="#2fdc2f" stroke-width="1.70" fill="none" stroke-linejoin="round" stroke-linecap="round"/>
<text x="497.20" y="303.20" class="ti">Hum15</text>
<text transform="translate(361.40,421.60) rotate(-90)" text-anchor="middle" class="yl">CD/mdeg</text>
<text x="470.30" y="552.60" class="xl">Wavelength(nm)</text>
<text x="596.10" y="342.20" class="lb">K<tspan dx="0.6" dy="-6.8" class="sp">+</tspan></text>
<text x="575.80" y="382.00" class="lb">Na<tspan dx="0.6" dy="-6.8" class="sp">+</tspan></text>
<text x="492.60" y="343.00" class="lb">Ca<tspan dx="0.6" dy="-6.8" class="sp">2+</tspan></text>
<text x="499.60" y="390.40" class="lb">Mg<tspan dx="0.6" dy="-6.8" class="sp">2+</tspan></text>
<text x="501.00" y="459.20" class="lb">No ion</text>
<path d="M514.20,447.60L517.31,419.17" stroke="#2a2a2a" stroke-width="0.75" fill="none"/>
<path d="M517.80,414.70L518.89,420.35L515.51,419.98Z" fill="#111"/>
<rect x="43.80" y="592.80" width="276.20" height="202.70" fill="none" stroke="#383838" stroke-width="1.1"/>
<text x="43.80" y="812.10" text-anchor="middle" class="tk">220</text>
<text x="99.04" y="812.10" text-anchor="middle" class="tk">240</text>
<text x="154.28" y="812.10" text-anchor="middle" class="tk">260</text>
<text x="209.52" y="812.10" text-anchor="middle" class="tk">280</text>
<text x="264.76" y="812.10" text-anchor="middle" class="tk">300</text>
<text x="320.00" y="812.10" text-anchor="middle" class="tk">320</text>
<text x="36.70" y="800.00" text-anchor="end" class="tk">-5</text>
<text x="36.70" y="759.46" text-anchor="end" class="tk">0</text>
<text x="36.70" y="718.92" text-anchor="end" class="tk">5</text>
<text x="36.70" y="678.38" text-anchor="end" class="tk">10</text>
<text x="36.70" y="637.84" text-anchor="end" class="tk">15</text>
<text x="36.70" y="597.30" text-anchor="end" class="tk">20</text>
<path d="M43.80,795.50v4.0 M71.42,795.50v2.0 M99.04,795.50v4.0 M126.66,795.50v2.0 M154.28,795.50v4.0 M181.90,795.50v2.0 M209.52,795.50v4.0 M237.14,795.50v2.0 M264.76,795.50v4.0 M292.38,795.50v2.0 M320.00,795.50v4.0 M43.80,795.50h-4.0 M43.80,775.23h-2.0 M43.80,754.96h-4.0 M43.80,734.69h-2.0 M43.80,714.42h-4.0 M43.80,694.15h-2.0 M43.80,673.88h-4.0 M43.80,653.61h-2.0 M43.80,633.34h-4.0 M43.80,613.07h-2.0 M43.80,592.80h-4.0" stroke="#383838" stroke-width="1.1" fill="none"/>
<path d="M43.80,746.93 C46.43,749.45 49.07,752.49 51.70,754.47 C55.60,757.42 59.51,758.46 63.41,759.82 C67.28,761.18 71.14,762.06 75.01,762.66 C76.94,762.96 78.88,763.27 80.81,763.31 C82.74,763.35 84.68,763.12 86.61,762.91 C90.57,762.47 94.53,761.96 98.49,760.64 C102.35,759.34 106.22,757.57 110.09,755.12 C113.40,753.03 116.72,749.62 120.03,747.50 C122.70,745.79 125.37,744.34 128.04,743.20 C129.51,742.57 130.99,742.01 132.46,741.58 C135.31,740.74 138.17,740.30 141.02,740.28 C145.81,740.26 150.60,741.92 155.38,743.77 C159.44,745.33 163.49,748.41 167.54,749.93 C170.02,750.86 172.51,751.55 175.00,752.12 C176.74,752.52 178.48,752.85 180.22,753.10 C183.61,753.57 187.01,753.82 190.41,753.58 C193.84,753.34 197.28,752.40 200.71,751.64 C204.11,750.88 207.50,749.89 210.90,749.04 C214.31,748.19 217.71,747.20 221.12,746.53 C224.52,745.85 227.91,745.33 231.31,744.99 C234.21,744.70 237.11,744.28 240.01,744.50 C243.47,744.76 246.94,746.02 250.40,746.93 C255.83,748.37 261.26,750.80 266.69,752.04 C272.22,753.30 277.74,753.96 283.27,754.39 C289.99,754.92 296.71,754.36 303.43,754.39 C308.95,754.42 314.48,754.50 320.00,754.55" stroke="#111111" stroke-width="1.70" fill="none" stroke-linejoin="round" stroke-linecap="round"/>
<path d="M43.80,737.20 C46.56,737.74 49.32,738.40 52.09,738.83 C55.86,739.40 59.64,739.79 63.41,739.88 C67.28,739.97 71.14,739.65 75.01,739.31 C78.14,739.03 81.27,738.97 84.40,738.18 C87.16,737.47 89.93,736.49 92.69,735.10 C95.08,733.89 97.47,731.89 99.87,730.64 C102.17,729.43 104.47,728.42 106.77,727.64 C110.27,726.45 113.77,725.63 117.27,725.61 C119.57,725.60 121.87,725.90 124.17,726.42 C126.94,727.04 129.70,727.74 132.46,729.34 C134.95,730.78 137.43,732.96 139.92,735.18 C144.43,739.20 148.94,745.91 153.45,749.93 C157.50,753.55 161.55,757.18 165.60,758.61 C167.07,759.12 168.53,759.22 170.00,759.58 C171.70,760.00 173.40,760.66 175.11,760.96 C176.81,761.26 178.51,761.50 180.22,761.37 C182.16,761.21 184.10,760.59 186.04,759.82 C187.88,759.10 189.73,758.05 191.57,756.99 C193.57,755.83 195.58,754.69 197.59,753.10 C200.00,751.18 202.41,748.63 204.82,746.04 C207.18,743.51 209.54,740.83 211.90,737.77 C214.26,734.70 216.63,731.00 218.99,727.64 C221.40,724.22 223.80,720.36 226.20,717.42 C228.47,714.65 230.73,712.24 233.00,710.37 C235.34,708.43 237.67,707.03 240.01,706.07 C242.19,705.18 244.36,704.71 246.53,704.61 C250.58,704.42 254.63,705.73 258.68,708.01 C262.09,709.93 265.50,713.24 268.90,716.20 C272.31,719.16 275.72,722.91 279.12,725.77 C283.17,729.18 287.22,731.61 291.28,734.61 C295.33,737.61 299.38,740.89 303.43,743.77 C308.95,747.69 314.48,750.96 320.00,754.55" stroke="#d42a2a" stroke-width="1.70" fill="none" stroke-linejoin="round" stroke-linecap="round"/>
<path d="M43.80,709.56 C45.46,713.66 47.11,717.55 48.77,721.88 C50.71,726.93 52.64,732.72 54.57,737.93 C55.95,741.65 57.33,745.66 58.71,748.88 C60.28,752.53 61.85,755.38 63.41,758.20 C65.34,761.69 67.28,764.53 69.21,767.37 C71.14,770.20 73.08,772.89 75.01,775.23 C76.94,777.57 78.88,779.70 80.81,781.39 C82.74,783.08 84.68,784.22 86.61,785.37 C88.64,786.56 90.66,787.53 92.69,788.36 C93.79,788.82 94.90,789.45 96.00,789.58 C97.94,789.82 99.87,788.96 101.80,787.80 C103.74,786.64 105.67,785.14 107.60,782.61 C109.63,779.95 111.65,776.70 113.68,771.99 C115.80,767.06 117.91,760.41 120.03,753.34 C121.78,747.49 123.53,740.14 125.28,734.04 C126.84,728.58 128.41,723.70 129.97,718.47 C133.56,706.49 137.16,694.18 140.75,681.99 C144.15,670.42 147.56,656.44 150.97,647.20 C153.27,640.97 155.57,635.29 157.87,631.72 C160.17,628.15 162.47,626.18 164.78,625.80 C166.80,625.46 168.83,626.77 170.85,628.48 C173.06,630.34 175.27,633.35 177.48,636.99 C180.89,642.60 184.29,651.34 187.70,659.53 C191.11,667.72 194.51,677.72 197.92,686.12 C199.85,690.89 201.79,695.13 203.72,699.99 C205.41,704.24 207.11,709.53 208.80,713.28 C210.51,717.06 212.21,720.08 213.91,722.53 C215.97,725.49 218.04,726.84 220.10,728.61 C222.47,730.65 224.85,732.29 227.22,733.72 C229.29,734.95 231.35,736.04 233.41,736.80 C235.61,737.61 237.81,737.84 240.01,738.34 C247.62,740.05 255.22,741.09 262.83,742.80 C269.64,744.33 276.45,746.29 283.27,747.91 C289.99,749.50 296.71,751.29 303.43,752.45 C308.95,753.39 314.48,753.85 320.00,754.55" stroke="#1c18c8" stroke-width="1.70" fill="none" stroke-linejoin="round" stroke-linecap="round"/>
<path d="M43.80,727.72 C45.46,730.18 47.11,732.74 48.77,735.10 C49.75,736.48 50.72,737.86 51.70,739.15 C53.63,741.70 55.57,743.94 57.50,746.04 C59.47,748.19 61.44,750.32 63.41,751.88 C65.34,753.41 67.28,754.35 69.21,755.37 C71.14,756.38 73.08,757.22 75.01,757.96 C78.88,759.44 82.74,760.37 86.61,760.88 C88.61,761.14 90.61,761.47 92.60,761.28 C94.57,761.10 96.53,760.51 98.49,759.82 C102.35,758.47 106.22,756.26 110.09,753.42 C113.40,750.99 116.72,747.81 120.03,744.58 C123.35,741.35 126.66,737.07 129.97,734.04 C133.29,731.01 136.60,728.73 139.92,726.42 C143.78,723.73 147.65,720.82 151.52,719.28 C154.92,717.93 158.33,717.21 161.74,717.18 C164.49,717.15 167.24,717.55 170.00,718.39 C173.40,719.43 176.81,721.80 180.22,723.50 C183.61,725.20 187.01,727.09 190.41,728.61 C193.84,730.15 197.28,731.37 200.71,732.66 C204.11,733.94 207.50,735.29 210.90,736.31 C214.31,737.34 217.71,738.15 221.12,738.83 C224.52,739.50 227.91,740.01 231.31,740.37 C234.21,740.67 237.11,740.60 240.01,740.93 C244.86,741.49 249.70,742.81 254.54,743.77 C261.26,745.11 267.98,746.62 274.70,747.91 C281.52,749.21 288.33,750.52 295.14,751.55 C303.43,752.82 311.71,753.55 320.00,754.55" stroke="#d82ad8" stroke-width="1.70" fill="none" stroke-linejoin="round" stroke-linecap="round"/>
<path d="M43.80,743.93 C46.43,747.45 49.07,751.44 51.70,754.47 C53.63,756.70 55.57,758.56 57.50,760.39 C59.47,762.26 61.44,764.02 63.41,765.58 C65.34,767.12 67.28,768.35 69.21,769.72 C71.14,771.08 73.08,772.71 75.01,773.77 C76.97,774.85 78.93,775.48 80.89,776.12 C82.83,776.75 84.76,777.24 86.69,777.58 C88.66,777.93 90.63,778.18 92.60,778.15 C94.54,778.12 96.47,778.04 98.40,777.42 C100.34,776.80 102.27,775.80 104.20,774.42 C106.17,773.02 108.13,771.24 110.09,769.07 C112.02,766.93 113.95,764.32 115.89,761.53 C117.27,759.53 118.65,757.32 120.03,755.12 C122.61,751.03 125.19,746.75 127.76,742.23 C129.70,738.84 131.63,734.89 133.56,731.69 C135.68,728.18 137.80,725.03 139.92,722.28 C143.78,717.27 147.65,714.08 151.52,711.10 C155.20,708.26 158.88,704.88 162.57,704.61 C165.04,704.43 167.52,705.26 170.00,706.64 C171.66,707.56 173.33,708.96 175.00,710.37 C176.74,711.84 178.48,713.69 180.22,715.31 C183.61,718.47 187.01,721.76 190.41,724.47 C193.84,727.22 197.28,729.46 200.71,731.69 C204.11,733.89 207.50,735.91 210.90,737.77 C214.31,739.64 217.71,741.34 221.12,742.88 C224.52,744.42 227.91,745.73 231.31,747.01 C234.21,748.11 237.11,749.16 240.01,750.10 C242.19,750.80 244.36,751.47 246.53,752.04 C253.34,753.82 260.16,754.37 266.97,754.96 C273.78,755.55 280.60,755.67 287.41,755.61 C292.75,755.56 298.09,755.13 303.43,754.96 C308.95,754.78 314.48,754.69 320.00,754.55" stroke="#2fdc2f" stroke-width="1.70" fill="none" stroke-linejoin="round" stroke-linecap="round"/>
<text x="151.30" y="582.80" class="ti">T</text>
<text x="160.50" y="589.00" class="ti sb">2</text>
<text x="166.90" y="582.80" class="ti">T</text>
<text x="175.30" y="589.00" class="ti sb">2</text>
<text x="181.50" y="582.80" class="ti">T</text>
<text x="190.40" y="589.00" class="ti sb">3</text>
<text transform="translate(16.40,705.00) rotate(-90)" text-anchor="middle" class="yl">CD/mdeg</text>
<text x="125.10" y="836.00" class="xl">Wavelength(nm)</text>
<text x="150.10" y="622.70" class="lb">K<tspan dx="0.6" dy="-6.8" class="sp">+</tspan></text>
<text x="161.30" y="701.40" class="lb">Ca<tspan dx="0.6" dy="-6.8" class="sp">2+</tspan></text>
<text x="154.00" y="732.00" class="lb">Mg<tspan dx="0.6" dy="-6.8" class="sp">2+</tspan></text>
<text x="250.10" y="700.90" class="lb">Na<tspan dx="0.6" dy="-6.8" class="sp">+</tspan></text>
<text x="220.50" y="784.00" class="lb">No ion</text>
<path d="M231.10,774.40L219.07,753.79" stroke="#2a2a2a" stroke-width="0.75" fill="none"/>
<path d="M216.80,749.90L221.04,753.79L218.10,755.51Z" fill="#111"/>
<rect x="388.50" y="595.50" width="282.90" height="209.90" fill="none" stroke="#383838" stroke-width="1.1"/>
<text x="388.50" y="822.00" text-anchor="middle" class="tk">220</text>
<text x="445.08" y="822.00" text-anchor="middle" class="tk">240</text>
<text x="501.66" y="822.00" text-anchor="middle" class="tk">260</text>
<text x="558.24" y="822.00" text-anchor="middle" class="tk">280</text>
<text x="614.82" y="822.00" text-anchor="middle" class="tk">300</text>
<text x="671.40" y="822.00" text-anchor="middle" class="tk">320</text>
<text x="381.40" y="788.91" text-anchor="end" class="tk">-2</text>
<text x="381.40" y="746.93" text-anchor="end" class="tk">0</text>
<text x="381.40" y="704.95" text-anchor="end" class="tk">2</text>
<text x="381.40" y="662.97" text-anchor="end" class="tk">4</text>
<text x="381.40" y="620.99" text-anchor="end" class="tk">6</text>
<path d="M388.50,805.40v4.0 M416.79,805.40v2.0 M445.08,805.40v4.0 M473.37,805.40v2.0 M501.66,805.40v4.0 M529.95,805.40v2.0 M558.24,805.40v4.0 M586.53,805.40v2.0 M614.82,805.40v4.0 M643.11,805.40v2.0 M671.40,805.40v4.0 M388.50,805.40h-2.0 M388.50,784.41h-4.0 M388.50,763.42h-2.0 M388.50,742.43h-4.0 M388.50,721.44h-2.0 M388.50,700.45h-4.0 M388.50,679.46h-2.0 M388.50,658.47h-4.0 M388.50,637.48h-2.0 M388.50,616.49h-4.0 M388.50,595.50h-2.0" stroke="#383838" stroke-width="1.1" fill="none"/>
<path d="M388.50,732.56 C391.61,736.34 394.72,740.52 397.84,743.90 C401.42,747.79 405.00,751.24 408.59,753.97 C411.98,756.56 415.38,758.80 418.77,760.06 C422.17,761.32 425.56,761.69 428.95,761.53 C433.01,761.34 437.06,760.45 441.12,758.17 C445.17,755.90 449.23,752.54 453.28,747.89 C456.68,743.99 460.07,738.48 463.47,733.61 C466.96,728.62 470.45,722.23 473.94,718.29 C477.33,714.46 480.73,711.92 484.12,710.11 C487.51,708.29 490.91,707.38 494.30,707.38 C497.70,707.38 501.09,708.44 504.49,710.11 C508.54,712.10 512.60,715.27 516.65,719.34 C519.77,722.46 522.88,727.51 525.99,730.47 C529.67,733.96 533.34,736.13 537.02,737.81 C540.61,739.45 544.19,740.18 547.77,740.54 C551.45,740.91 555.13,740.48 558.81,739.91 C563.90,739.13 568.99,736.63 574.08,735.50 C579.93,734.21 585.78,732.98 591.62,732.98 C597.47,732.98 603.32,734.35 609.16,735.50 C615.01,736.66 620.86,738.82 626.70,739.91 C633.96,741.27 641.22,741.79 648.49,742.22 C656.12,742.67 663.76,742.36 671.40,742.43" stroke="#111111" stroke-width="1.70" fill="none" stroke-linejoin="round" stroke-linecap="round"/>
<path d="M388.50,703.60 C390.80,710.74 393.10,718.37 395.40,725.01 C397.63,731.43 399.85,738.15 402.08,742.85 C404.44,747.82 406.79,750.13 409.15,753.55 C411.51,756.98 413.87,760.94 416.22,763.42 C418.58,765.90 420.94,767.23 423.30,768.46 C425.65,769.68 428.01,770.24 430.37,770.77 C432.73,771.29 435.08,771.92 437.44,771.61 C439.80,771.29 442.16,770.42 444.51,768.88 C446.87,767.34 449.23,765.20 451.59,762.37 C453.94,759.54 456.30,756.01 458.66,751.88 C460.92,747.91 463.19,742.92 465.45,738.23 C467.90,733.15 470.35,727.87 472.80,722.49 C475.44,716.70 478.08,711.57 480.73,704.65 C482.05,701.18 483.37,696.75 484.69,693.52 C487.51,686.61 490.34,683.24 493.17,679.46 C496.94,674.42 500.72,671.33 504.49,669.17 C507.51,667.45 510.52,666.37 513.54,666.45 C517.69,666.55 521.84,669.48 525.99,672.32 C529.67,674.85 533.34,679.01 537.02,681.98 C542.11,686.09 547.21,690.20 552.30,692.89 C556.64,695.19 560.97,696.50 565.31,697.72 C570.40,699.16 575.50,699.12 580.59,700.45 C585.02,701.60 589.45,702.61 593.89,704.86 C598.22,707.05 602.56,710.60 606.90,713.67 C611.33,716.82 615.76,720.59 620.20,723.54 C625.29,726.93 630.38,729.90 635.47,732.35 C641.32,735.17 647.16,737.20 653.01,738.86 C659.14,740.61 665.27,741.24 671.40,742.43" stroke="#d42a2a" stroke-width="1.70" fill="none" stroke-linejoin="round" stroke-linecap="round"/>
<path d="M388.50,712.20 C389.87,716.47 391.23,721.09 392.60,725.01 C395.76,734.07 398.92,739.63 402.08,746.63 C404.44,751.85 406.79,757.75 409.15,761.95 C411.51,766.15 413.87,769.12 416.22,771.82 C418.58,774.51 420.94,776.50 423.30,778.11 C425.65,779.72 428.01,780.68 430.37,781.47 C433.20,782.43 436.03,783.12 438.86,782.94 C441.69,782.77 444.51,782.28 447.34,780.42 C450.17,778.57 453.00,776.19 455.83,771.82 C458.19,768.17 460.55,763.70 462.90,757.75 C465.26,751.81 467.62,744.67 469.98,736.13 C471.39,731.01 472.80,724.63 474.22,719.34 C477.14,708.42 480.07,700.22 482.99,690.58 C485.82,681.26 488.65,671.03 491.48,662.46 C494.02,654.74 496.57,646.83 499.11,641.26 C501.38,636.30 503.64,632.89 505.90,629.92 C508.94,625.94 511.98,623.13 515.01,622.37 C519.80,621.16 524.59,626.75 529.38,631.81 C534.66,637.39 539.95,648.46 545.23,655.53 C549.56,661.34 553.90,667.18 558.24,671.27 C564.37,677.07 570.50,678.23 576.63,681.77 C582.38,685.09 588.13,687.39 593.89,691.84 C598.22,695.21 602.56,699.66 606.90,703.81 C611.33,708.05 615.76,713.20 620.20,717.03 C625.29,721.43 630.38,724.84 635.47,727.95 C641.32,731.51 647.16,734.20 653.01,736.55 C659.14,739.01 665.27,740.33 671.40,742.22" stroke="#1c18c8" stroke-width="1.70" fill="none" stroke-linejoin="round" stroke-linecap="round"/>
<path d="M388.50,705.70 C390.80,712.13 393.10,718.50 395.40,725.01 C397.63,731.31 399.85,739.17 402.08,744.11 C404.44,749.35 406.79,751.63 409.15,755.02 C411.51,758.42 413.87,762.02 416.22,764.47 C418.58,766.92 420.94,768.35 423.30,769.72 C425.65,771.08 428.01,771.99 430.37,772.66 C432.73,773.32 435.08,774.09 437.44,773.71 C439.80,773.32 442.16,772.06 444.51,770.35 C446.87,768.63 449.23,766.32 451.59,763.42 C453.94,760.52 456.30,757.06 458.66,752.92 C460.92,748.96 463.19,743.91 465.45,739.28 C467.90,734.27 470.35,729.56 472.80,723.96 C475.26,718.36 477.71,711.54 480.16,705.70 C481.67,702.10 483.18,698.37 484.69,695.20 C487.51,689.27 490.34,684.60 493.17,680.93 C496.00,677.26 498.83,674.94 501.66,673.16 C504.68,671.26 507.70,670.31 510.71,670.22 C515.80,670.07 520.90,673.38 525.99,677.36 C529.67,680.23 533.34,685.12 537.02,688.49 C542.11,693.14 547.21,696.97 552.30,700.45 C556.64,703.41 560.97,706.11 565.31,708.22 C570.40,710.69 575.50,711.97 580.59,713.67 C586.53,715.66 592.47,716.93 598.41,719.13 C603.50,721.02 608.60,723.57 613.69,725.64 C619.53,728.01 625.38,730.34 631.23,732.35 C638.49,734.86 645.75,737.10 653.01,738.86 C659.14,740.34 665.27,741.24 671.40,742.43" stroke="#d82ad8" stroke-width="1.70" fill="none" stroke-linejoin="round" stroke-linecap="round"/>
<path d="M388.50,694.78 C391.05,705.70 393.59,717.92 396.14,727.53 C398.87,737.85 401.61,746.15 404.34,753.97 C407.74,763.69 411.13,771.76 414.53,778.53 C418.68,786.81 422.83,793.02 426.97,797.00 C430.65,800.53 434.33,802.75 438.01,802.46 C441.78,802.16 445.55,800.89 449.32,794.90 C452.72,789.52 456.11,780.54 459.51,770.35 C462.24,762.13 464.98,752.68 467.71,741.80 C470.45,730.92 473.18,716.65 475.92,705.07 C478.65,693.49 481.39,682.36 484.12,672.32 C486.01,665.40 487.89,658.50 489.78,652.80 C492.04,645.97 494.30,639.79 496.57,635.80 C499.21,631.14 501.85,628.82 504.49,628.66 C508.36,628.44 512.22,635.22 516.09,642.31 C519.67,648.87 523.25,660.79 526.84,668.55 C529.48,674.26 532.12,677.58 534.76,684.08 C537.68,691.27 540.61,702.86 543.53,710.53 C546.45,718.19 549.38,724.24 552.30,730.05 C555.22,735.85 558.15,741.17 561.07,745.37 C563.99,749.57 566.92,752.47 569.84,755.23 C574.18,759.33 578.51,762.05 582.85,764.05 C588.70,766.74 594.55,766.88 600.39,766.99 C606.24,767.09 612.09,765.90 617.93,764.68 C623.78,763.45 629.63,761.74 635.47,759.64 C641.32,757.54 647.16,754.87 653.01,752.09 C659.14,749.16 665.27,745.65 671.40,742.43" stroke="#2fdc2f" stroke-width="1.70" fill="none" stroke-linejoin="round" stroke-linecap="round"/>
<text x="504.70" y="586.80" class="ti">T</text>
<text x="513.60" y="593.40" class="ti sb">2</text>
<text x="519.30" y="586.80" class="ti">T</text>
<text x="528.90" y="593.40" class="ti sb">2</text>
<text transform="translate(365.40,694.40) rotate(-90)" text-anchor="middle" class="yl">CD/mdeg</text>
<text x="469.80" y="841.60" class="xl" style="letter-spacing:0.05px">Wavelength(nm)</text>
<text x="461.90" y="627.80" class="lb">Ca<tspan dx="0.6" dy="-6.8" class="sp">2+</tspan></text>
<text x="534.20" y="630.50" class="lb">K<tspan dx="0.6" dy="-6.8" class="sp">+</tspan></text>
<text x="452.70" y="667.50" class="lb">Mg<tspan dx="0.6" dy="-6.8" class="sp">2+</tspan></text>
<text x="600.40" y="659.40" class="lb">Na<tspan dx="0.6" dy="-6.8" class="sp">+</tspan></text>
<text x="480.60" y="728.00" class="lb">No ion</text>
<path d="M479.40,626.50L490.26,634.36" stroke="#2a2a2a" stroke-width="0.75" fill="none"/>
<path d="M493.90,637.00L488.45,635.15L490.44,632.40Z" fill="#111"/>
<path d="M472.80,667.30L498.66,671.74" stroke="#2a2a2a" stroke-width="0.75" fill="none"/>
<path d="M503.10,672.50L497.39,673.25L497.97,669.89Z" fill="#111"/>
<path d="M601.60,659.40L580.28,693.68" stroke="#2a2a2a" stroke-width="0.75" fill="none"/>
<path d="M577.90,697.50L579.36,691.93L582.25,693.73Z" fill="#111"/>
</svg>
</body></html>
